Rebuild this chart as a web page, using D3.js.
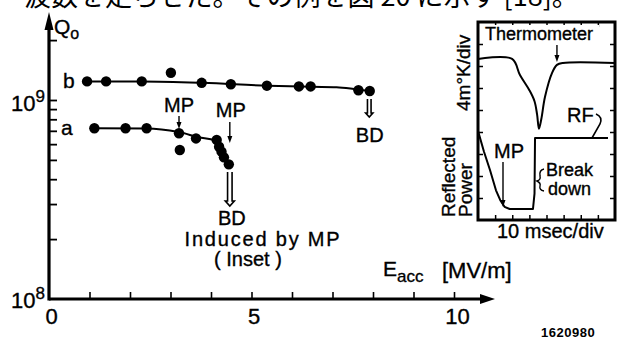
<!DOCTYPE html>
<html>
<head>
<meta charset="utf-8">
<script src="https://cdn.jsdelivr.net/npm/d3@7"></script>
<style>
  html, body { margin: 0; padding: 0; background: #fff; }
  svg { display: block; }
  text { font-family: "Liberation Sans", Arial, sans-serif; fill: #000; }
  text.ink { stroke: #000; stroke-width: 0.35px; }
</style>
</head>
<body>
<svg id="chart" width="617" height="340"></svg>
<script>
// ---- Q0 vs Eacc measurements ----
const bE = [0.94, 1.41, 2.29, 3.01, 3.77, 4.49, 5.38, 6.17, 6.46, 7.64, 7.92];
const bQ = [1.24e9, 1.24e9, 1.24e9, 1.37e9, 1.22e9, 1.20e9, 1.18e9, 1.17e9, 1.17e9, 1.12e9, 1.11e9];
const aE = [1.12, 1.89, 2.41, 3.21, 3.23, 3.63, 4.14, 4.20, 4.26, 4.32, 4.44];
const aQ = [7.21e8, 7.21e8, 7.21e8, 6.81e8, 5.61e8, 6.41e8, 6.30e8, 5.82e8, 5.50e8, 5.15e8, 4.75e8];

// hand-drawn trend curves through each series
const bFitE = [0.94, 2.3, 3.8, 5.4, 6.5, 7.1, 7.6, 7.92];
const bFitQ = [1.24e9, 1.24e9, 1.22e9, 1.18e9, 1.165e9, 1.16e9, 1.13e9, 1.11e9];
const aFitE = [1.12, 2.4, 3.2, 3.7, 4.1, 4.3, 4.44];
const aFitQ = [7.21e8, 7.2e8, 6.9e8, 6.5e8, 6.25e8, 5.4e8, 4.75e8];

// axis ticks
const xTicks = [0, 1, 2, 3, 4, 5, 6, 7, 8, 9, 10];
const xTickLabels = [0, 5, 10];
const yTicks = [2e8, 3e8, 4e8, 5e8, 6e8, 7e8, 8e8, 9e8, 1e9, 2e9];

// ---- inset oscilloscope traces (in divisions) ----
const thermoT = [0, 1.99, 2.45, 3.0, 3.3, 3.45, 3.56, 3.7, 3.91, 4.32, 4.61, 4.96, 8];
const thermoV = [7.32, 7.32, 6.59, 5.9, 5.4, 4.8, 4.15, 4.6, 5.59, 6.68, 7.05, 7.14, 7.14];
const rfT = [0, 0.35, 0.7, 1.05, 1.3, 1.55, 1.85, 3.21, 3.3, 3.33, 7.59];
const rfV = [4.05, 3.1, 2.27, 1.35, 0.9, 0.6, 0.5, 0.5, 1.2, 3.73, 3.73];

const svg = d3.select("#chart");
svg.append("rect").attr("width", 617).attr("height", 340).attr("fill", "#fff");

// running text above the figure (clipped by the page edge)
svg.append("text")
  .attr("x", 24).attr("y", 6)
  .style("font-family", "'Noto Sans CJK JP', sans-serif")
  .style("font-size", "27px")
  .text("波数を走らせた。その例を図 20 に示す [18]。");

// ---- main chart ----
const x = d3.scaleLinear().domain([0, 10]).range([49, 454]);
const y = d3.scaleLog().domain([1e8, 1e9]).range([299, 100]);

const xAxis = d3.axisBottom(x)
  .tickValues(xTicks)
  .tickSize(-7)
  .tickPadding(9)
  .tickFormat(d => xTickLabels.includes(d) ? d : "");
const gx = svg.append("g").attr("transform", `translate(0,${y(1e8)})`).call(xAxis);
gx.select(".domain").remove();
gx.selectAll(".tick line").attr("stroke", "#000").attr("stroke-width", 1.6)
  .filter(d => d === 0).remove();
gx.selectAll(".tick text")
  .attr("class", "ink")
  .style("font-size", "22px").style("font-family", "'Liberation Sans', Arial, sans-serif")
  .attr("fill", "#000").attr("dx", d => d === 10 ? 3 : 2);

const yAxis = d3.axisLeft(y).tickValues(yTicks).tickSize(-8).tickFormat("");
const gy = svg.append("g").attr("transform", `translate(${x(0)},0)`).call(yAxis);
gy.select(".domain").remove();
gy.selectAll(".tick line").attr("stroke", "#000").attr("stroke-width", 1.8);

// thick axis lines with arrowheads
svg.append("line").attr("x1", x(0)).attr("x2", 482).attr("y1", y(1e8)).attr("y2", y(1e8))
  .attr("stroke", "#000").attr("stroke-width", 3.2);
svg.append("path").attr("d", `M480,${y(1e8) - 5}L495,${y(1e8)}L480,${y(1e8) + 5}Z`).attr("fill", "#000");
svg.append("line").attr("x1", x(0)).attr("x2", x(0)).attr("y1", y(1e8) + 1.6).attr("y2", 26)
  .attr("stroke", "#000").attr("stroke-width", 3.2);
svg.append("path").attr("d", `M${x(0) - 4.5},30L${x(0)},12L${x(0) + 4.5},30Z`).attr("fill", "#000");

// axis titles
const q = svg.append("text").attr("class", "ink").attr("x", 54).attr("y", 34).style("font-size", "21px");
q.append("tspan").text("Q");
q.append("tspan").attr("dy", 5).style("font-size", "16px").text("o");

function decade(xp, yp, exp) {
  const t = svg.append("text").attr("class", "ink").attr("x", xp).attr("y", yp).style("font-size", "22px");
  t.append("tspan").text("10");
  t.append("tspan").attr("dy", -9).style("font-size", "17px").text(exp);
}
decade(11, 308, "8");
decade(11, 111, "9");

const et = svg.append("text").attr("class", "ink").attr("x", 383).attr("y", 276).style("font-size", "21px");
et.append("tspan").text("E");
et.append("tspan").attr("dy", 6).style("font-size", "17px").text("acc");
svg.append("text").attr("class", "ink").attr("x", 442).attr("y", 278).style("font-size", "22px").text("[MV/m]");

svg.append("text").attr("x", 541).attr("y", 337)
  .style("font-size", "13px").style("font-weight", "bold").attr("letter-spacing", 0.5)
  .text("1620980");

// trend curves and points
const line = d3.line().x(d => x(d[0])).y(d => y(d[1])).curve(d3.curveMonotoneX);
svg.append("path").attr("d", line(bFitE.map((e, i) => [e, bFitQ[i]])))
  .attr("fill", "none").attr("stroke", "#000").attr("stroke-width", 2);
svg.append("path").attr("d", line(aFitE.map((e, i) => [e, aFitQ[i]])))
  .attr("fill", "none").attr("stroke", "#000").attr("stroke-width", 2);

svg.append("g").selectAll("circle").data(bE.map((e, i) => [e, bQ[i]])).join("circle")
  .attr("cx", d => x(d[0])).attr("cy", d => y(d[1])).attr("r", 5.2).attr("fill", "#000");
svg.append("g").selectAll("circle").data(aE.map((e, i) => [e, aQ[i]])).join("circle")
  .attr("cx", d => x(d[0])).attr("cy", d => y(d[1])).attr("r", 5.2).attr("fill", "#000");

// series names
function label(xp, yp, txt, size, anchor) {
  return svg.append("text").attr("class", "ink").attr("x", xp).attr("y", yp)
    .attr("text-anchor", anchor || "middle").style("font-size", size + "px").text(txt);
}
label(63, y(bQ[0]) + 7, "b", 21, "start");
label(61, y(aQ[0]) + 7, "a", 21, "start");

// annotations
function thinArrow(xp, y1, y2) {
  svg.append("line").attr("x1", xp).attr("x2", xp).attr("y1", y1).attr("y2", y2 - 5)
    .attr("stroke", "#000").attr("stroke-width", 1.4);
  svg.append("path").attr("d", `M${xp - 2.5},${y2 - 7}L${xp},${y2}L${xp + 2.5},${y2 - 7}Z`).attr("fill", "#000");
}
label(x(3.21), 112, "MP", 20);
thinArrow(x(3.21), 116, 129);
label(x(4.44) + 2, 117, "MP", 20);
thinArrow(x(4.44) + 1, 122, 143);

// hollow breakdown arrows
function hollowArrow(xp, y1, y2, w) {
  const h = w * 1.1;
  svg.append("path")
    .attr("d", `M${xp - w / 2},${y1}L${xp - w / 2},${y2 - h}L${xp - w},${y2 - h}L${xp},${y2}L${xp + w},${y2 - h}L${xp + w / 2},${y2 - h}L${xp + w / 2},${y1}`)
    .attr("fill", "#fff").attr("stroke", "#000").attr("stroke-width", 1.6);
}
hollowArrow(x(4.44) + 1, 172, 206, 4.5);
label(x(4.44) + 3, 225, "BD", 20);
label(263, 246, "Induced by MP", 20).attr("letter-spacing", 1.8);
label(248, 266, "( Inset )", 20);

hollowArrow(x(7.92) - 0.5, 99, 117, 3.6);
label(x(7.92), 142, "BD", 20);

// ---- inset ----
const ix = d3.scaleLinear().domain([0, 8]).range([478, 615]);
const iy = d3.scaleLinear().domain([0, 9]).range([220, 22]);
const inset = svg.append("g");

const itx = d3.axisBottom(ix).tickValues(d3.range(1, 8)).tickSize(-5).tickFormat("");
const ity = d3.axisLeft(iy).tickValues(d3.range(1, 9)).tickSize(-5).tickFormat("");
const ityR = d3.axisRight(iy).tickValues(d3.range(1, 9)).tickSize(-5).tickFormat("");
const itxT = d3.axisTop(ix).tickValues(d3.range(1, 8)).tickSize(-5).tickFormat("");
[[itx, `translate(0,${iy(0)})`], [itxT, `translate(0,${iy(9)})`],
 [ity, `translate(${ix(0)},0)`], [ityR, `translate(${ix(8)},0)`]].forEach(([ax, tr]) => {
  const g = inset.append("g").attr("transform", tr).call(ax);
  g.select(".domain").remove();
  g.selectAll(".tick line").attr("stroke", "#000").attr("stroke-width", 1.5);
});
inset.append("rect").attr("x", ix(0)).attr("y", iy(9)).attr("width", ix(8) - ix(0)).attr("height", iy(0) - iy(9))
  .attr("fill", "none").attr("stroke", "#000").attr("stroke-width", 3);

const iline2 = d3.line().x(d => ix(d[0])).y(d => iy(d[1])).curve(d3.curveCatmullRom);
inset.append("path").attr("d", iline2(thermoT.map((t, i) => [t, thermoV[i]])))
  .attr("fill", "none").attr("stroke", "#000").attr("stroke-width", 2);
inset.append("path").attr("d", d3.line().x(d => ix(d[0])).y(d => iy(d[1])).curve(d3.curveLinear)(rfT.map((t, i) => [t, rfV[i]])))
  .attr("fill", "none").attr("stroke", "#000").attr("stroke-width", 2).attr("stroke-linejoin", "round");

// inset labels
inset.append("rect").attr("x", 484).attr("y", 25).attr("width", 115).attr("height", 18).attr("fill", "#fff");
label(485, 40, "Thermometer", 18, "start");
thinArrow(ix(4.61), 45, 62);
label(567, 122, "RF", 20, "start");
inset.append("path").attr("d", "M592,138L600,124Q603,117 596,114")
  .attr("fill", "none").attr("stroke", "#000").attr("stroke-width", 1.6);
label(509, 158, "MP", 20);
thinArrow(503, 162, 207);
label(546, 176, "Break", 18, "start");
label(548, 195, "down", 18, "start");
inset.append("path").attr("d", "M544,169Q539,170 540,176Q541,180 537,181Q541,183 540,186Q539,190 544,191")
  .attr("fill", "none").attr("stroke", "#000").attr("stroke-width", 1.4);
label(497, 238, "10 msec/div", 20, "start");

function vlabel(xp, yp, txt) {
  svg.append("text").attr("class", "ink").attr("transform", `translate(${xp},${yp}) rotate(-90)`)
    .style("font-size", "19px").text(txt);
}
vlabel(470, 111, "4m°K/div");
vlabel(455, 217, "Reflected");
vlabel(472, 217, "Power");
</script>
</body>
</html>
